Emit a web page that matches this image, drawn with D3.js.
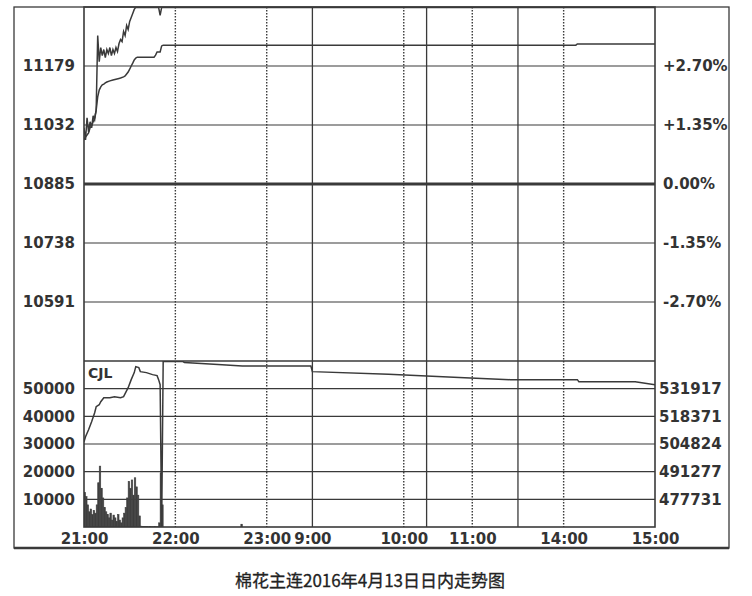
<!DOCTYPE html>
<html><head><meta charset="utf-8">
<script src="https://cdn.jsdelivr.net/npm/d3@7"></script>
<style>body{margin:0;background:#fff}svg{display:block}</style>
</head><body><svg id="c" width="752" height="596"></svg>
<script>
// ---------- data ----------
const title = "棉花主连2016年4月13日日内走势图";
const timeLabels = ["21:00","22:00","23:00","9:00","10:00","11:00","14:00","15:00"];
const timeTickMinutes = [0,60,120,150,210,255,315,375];
const sessionBreaks = [150,225,285];          // 23:30|9:00, 10:15|10:30, 11:30|13:30
const hourMarks = [60,120,210,255,315];       // 22:00, 23:00, 10:00, 11:00, 14:00
const totalMinutes = 375;
const preClose = 10885;
const priceTicks = [11179,11032,10885,10738,10591];
const pctLabels = ["+2.70%","+1.35%","0.00%","-1.35%","-2.70%"];
const priceRange = [10444, 11326];
const volTicks = [10000,20000,30000,40000,50000];
const oiTicks = [477731,491277,504824,518371,531917];
const volMax = 60000;
const volumeLabel = "CJL";

// [minute index, price]
const price = [[0,11025],[1,10995],[2,11050],[3,11015],[4,11040],[5,11025],[6,11055],[7,11045],[8,11070],
  [9,11255],[10,11190],[11,11225],[12,11205],[13,11220],[14,11200],[15,11220],[16,11210],[17,11225],
  [18,11205],[19,11220],[20,11210],[21,11225],[22,11215],[23,11235],[24,11245],[25,11240],[26,11265],
  [27,11255],[28,11280],[29,11270],[30,11290],[31,11300],[32,11310],[33,11320],[34,11325],[49,11325],
  [50,11305],[51,11325],[375,11325]];
// [minute index, average price]
const avgPrice = [[0,10995],[1,11002],[2,11007],[3,11012],[4,11025],[5,11030],[6,11040],[7,11050],[8,11069],
  [9,11102],[10,11119],[11,11127],[12,11132],[13,11134],[14,11137],[15,11139],[17,11142],[19,11144],
  [21,11146],[23,11148],[24,11149],[26,11152],[27,11154],[28,11159],[29,11164],[30,11171],[31,11179],
  [32,11186],[33,11194],[34,11199],[35,11201],[46,11201],[47,11206],[48,11214],[50,11214],[51,11229],
  [52,11231],[323,11231],[324,11234],[375,11234]];
// [minute index, volume]
const volume = [[0,12500],[1,11000],[2,8000],[3,5500],[4,6500],[5,4500],[6,6000],[7,5000],[8,8000],
  [9,16000],[10,22000],[11,14000],[12,10500],[13,7000],[14,5500],[15,4500],[16,3300],[17,5000],
  [18,2500],[19,4300],[20,3300],[21,2000],[22,4500],[23,2500],[24,1500],[25,3300],[26,5000],
  [27,7000],[28,10500],[29,16500],[30,14000],[31,17000],[32,11500],[33,17800],[34,14500],[35,11500],
  [36,4000],[37,300],[38,200],[39,150],[40,200],[41,150],[42,100],[43,150],[44,100],[45,100],[46,150],
  [47,100],[48,100],[49,1500],[50,19500],[51,8000],[103,1000]];
// [minute index, open interest]
const openInterest = [[0,505900],[1,508360],[3,511790],[5,515720],[7,520140],[8,523080],[10,524060],
  [11,525540],[13,527500],[17,527500],[20,527990],[24,527500],[26,527990],[29,532410],[31,536330],
  [33,539770],[34,542710],[36,542220],[37,540260],[41,539770],[45,538790],[48,538300],[49,536330],
  [50,533880],[51,464185],[52,545170],[65,545170],[66,544680],[88,543690],[104,542960],[149,542960],
  [150,540260],[200,539000],[250,537300],[280,536330],[324,536330],[325,535350],[362,535350],[375,533880]];

// ---------- layout ----------
const L = 84, R = 655, T = 7, M = 361, B = 527;
const ink = "#3a3a3a";
const svg = d3.select("#c");
svg.append("rect").attr("width",752).attr("height",596).attr("fill","#fff");

const x = d3.scaleLinear().domain([0,totalMinutes]).range([L,R]);
const yP = d3.scaleLinear().domain(priceRange).range([M,T]);
const yV = d3.scaleLinear().domain([0,volMax]).range([B,M]);
const oiStep = (oiTicks[oiTicks.length-1]-oiTicks[0])/(oiTicks.length-1);
const volStep = volTicks[1]-volTicks[0];
const yOI = d3.scaleLinear()
  .domain([oiTicks[0]-oiStep*(volTicks[0]/volStep), oiTicks[0]+oiStep*((volMax-volTicks[0])/volStep)])
  .range([B,M]);

svg.append("defs").call(d=>{
  d.append("clipPath").attr("id","cp").append("rect").attr("x",L).attr("y",T).attr("width",R-L).attr("height",M-T);
  d.append("clipPath").attr("id","cv").append("rect").attr("x",L).attr("y",M).attr("width",R-L).attr("height",B-M);
});

// outer frame
svg.append("rect").attr("x",14).attr("y",7).attr("width",715).attr("height",541)
  .attr("fill","none").attr("stroke",ink).attr("stroke-width",1.3);
svg.append("line").attr("x1",14).attr("x2",729).attr("y1",548).attr("y2",548)
  .attr("stroke",ink).attr("stroke-width",2.5);

const grid = svg.append("g");
grid.selectAll(".hp").data(priceTicks).join("line")
  .attr("x1",L).attr("x2",R).attr("y1",d=>yP(d)).attr("y2",d=>yP(d))
  .attr("stroke",ink).attr("stroke-width",d=>d===preClose?3:1.2);
grid.selectAll(".hv").data(volTicks).join("line")
  .attr("x1",L).attr("x2",R).attr("y1",d=>yV(d)).attr("y2",d=>yV(d))
  .attr("stroke",ink).attr("stroke-width",1.2);
grid.append("line").attr("x1",L).attr("x2",R).attr("y1",M).attr("y2",M).attr("stroke",ink).attr("stroke-width",1.5);
grid.selectAll(".vs").data(sessionBreaks).join("line")
  .attr("x1",d=>x(d)).attr("x2",d=>x(d)).attr("y1",T).attr("y2",B)
  .attr("stroke",ink).attr("stroke-width",1.3);
grid.selectAll(".vd").data(hourMarks).join("line")
  .attr("x1",d=>x(d)).attr("x2",d=>x(d)).attr("y1",T).attr("y2",B)
  .attr("stroke",ink).attr("stroke-width",1.4).attr("stroke-dasharray","1.4,1.6");

// volume bars
const bw = x(1)-x(0);
svg.append("g").attr("clip-path","url(#cv)").selectAll("rect").data(volume).join("rect")
  .attr("x",d=>x(d[0])).attr("width",bw)
  .attr("y",d=>yV(d[1])).attr("height",d=>B-yV(d[1]))
  .attr("fill","#404040").attr("stroke","#404040").attr("stroke-width",0.6);

// lines
const lineP = d3.line().x(d=>x(d[0])).y(d=>yP(d[1]));
svg.append("g").attr("clip-path","url(#cp)").call(g=>{
  g.append("path").attr("d",lineP(avgPrice)).attr("fill","none").attr("stroke",ink).attr("stroke-width",1.5);
  g.append("path").attr("d",lineP(price)).attr("fill","none").attr("stroke",ink).attr("stroke-width",1.5);
});
const lineOI = d3.line().x(d=>x(d[0])).y(d=>yOI(d[1]));
svg.append("g").attr("clip-path","url(#cv)").append("path").attr("d",lineOI(openInterest))
  .attr("fill","none").attr("stroke",ink).attr("stroke-width",1.5);

// plot frame
svg.append("rect").attr("x",L).attr("y",T).attr("width",R-L).attr("height",B-T)
  .attr("fill","none").attr("stroke",ink).attr("stroke-width",1.6);

// axes
const font = "'DejaVu Sans', sans-serif";
function style(g){
  g.select(".domain").remove();
  g.selectAll("text").attr("font-family",font).attr("font-weight","bold").attr("font-size",15).attr("fill","#333");
}
svg.append("g").attr("transform",`translate(${L},0)`)
  .call(d3.axisLeft(yP).tickValues(priceTicks).tickFormat(d3.format("d")).tickSize(0).tickPadding(9)).call(style);
svg.append("g").attr("transform",`translate(${R},0)`)
  .call(d3.axisRight(yP).tickValues(priceTicks).tickFormat((d,i)=>pctLabels[i]).tickSize(0).tickPadding(8)).call(style);
svg.append("g").attr("transform",`translate(${L},0)`)
  .call(d3.axisLeft(yV).tickValues(volTicks).tickFormat(d3.format("d")).tickSize(0).tickPadding(9)).call(style);
svg.append("g").attr("transform",`translate(${R},0)`)
  .call(d3.axisRight(yOI).tickValues(oiTicks).tickFormat(d3.format("d")).tickSize(0).tickPadding(4)).call(style);
svg.append("g").attr("transform",`translate(0,${B})`)
  .call(d3.axisBottom(x).tickValues(timeTickMinutes).tickFormat((d,i)=>timeLabels[i]).tickSize(0).tickPadding(6)).call(style);

svg.append("text").attr("x",L+4).attr("y",M+17).text(volumeLabel)
  .attr("font-family",font).attr("font-weight","bold").attr("font-size",14).attr("fill","#333");

svg.append("text").attr("x",370).attr("y",587).attr("text-anchor","middle").text(title)
  .attr("font-family","'Noto Sans CJK SC', sans-serif").attr("font-size",17).attr("fill","#222")
  .attr("stroke","#222").attr("stroke-width",0.3);
</script></body></html>
